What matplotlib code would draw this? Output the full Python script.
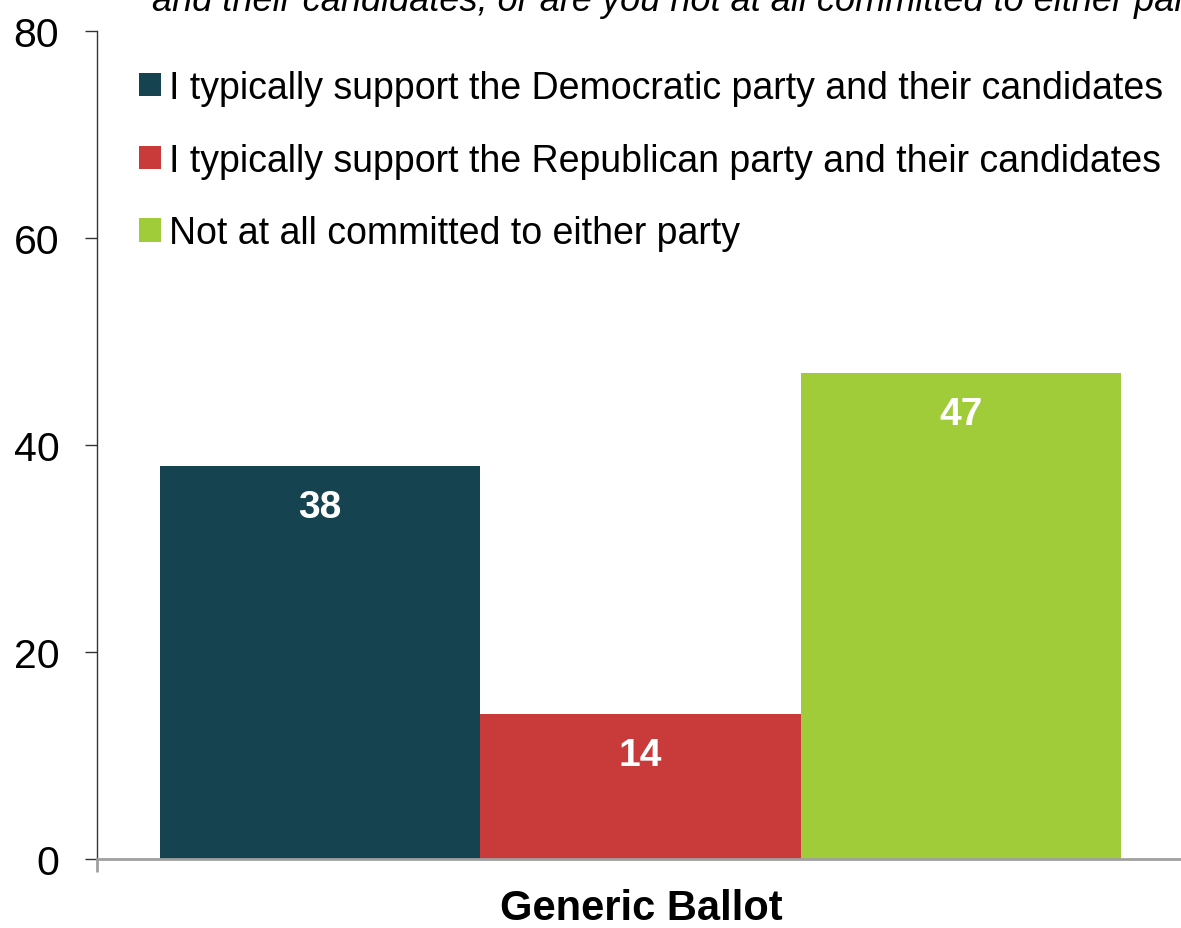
import matplotlib
matplotlib.use("Agg")
import matplotlib.pyplot as plt
from matplotlib.patches import Patch

plt.rcParams['font.family'] = ['Liberation Sans', 'DejaVu Sans']

category = "Generic Ballot"
series = ["I typically support the Democratic party and their candidates",
          "I typically support the Republican party and their candidates",
          "Not at all committed to either party"]
values = [38, 14, 47]
colors = ["#15434F", "#C93B3B", "#A0CC3A"]
yticks = [0, 20, 40, 60, 80]
title_tail = "and their candidates, or are you not at all committed to either party?"

W, H = 1181, 929
fig = plt.figure(figsize=(W / 100, H / 100), dpi=100)
ax = fig.add_axes([97 / W, (H - 860) / H, (1184 - 97) / W, (860 - 32) / H])

offsets = [-1, 0, 1]
for off, v, c, lab in zip(offsets, values, colors, series):
    ax.bar(off, v, width=1.0, color=c, label=lab, zorder=2)
    ax.text(off, v - 4.0, str(v), ha='center', va='center', color='white',
            fontsize=28, fontweight='bold', zorder=3)

ax.set_xlim(-1.697, 1.697)
ax.set_ylim(0, 80)
ax.set_yticks(yticks)
ax.set_yticklabels([str(t) for t in yticks], fontsize=29.5)
ax.tick_params(axis='y', direction='out', length=8.6, width=1, color='#333333', pad=18.5)
ax.set_xticks([-1.697])
ax.set_xticklabels([""])
ax.tick_params(axis='x', direction='out', length=9, width=2, color='#A0A0A0')

for s in ['top', 'right']:
    ax.spines[s].set_visible(False)
ax.spines['left'].set_color('#333333')
ax.spines['left'].set_linewidth(1)
ax.spines['bottom'].set_color('#A0A0A0')
ax.spines['bottom'].set_linewidth(2)
ax.spines['bottom'].set_zorder(4)

fig.text(641 / W, 1 - 909 / H, category, ha='center', va='center',
         fontsize=30, fontweight='bold')

fig.text(152 / W, 1 - 11 / H, title_tail, ha='left', va='baseline',
         fontsize=26, fontstyle='italic')

handles = [Patch(facecolor=c, edgecolor='none') for c in colors]
leg = ax.legend(handles, series, loc='upper left', bbox_to_anchor=(0.0386, 0.953),
                frameon=False, fontsize=27, handlelength=0.59, handleheight=0.59,
                handletextpad=0.22, labelspacing=0.98, borderaxespad=0, borderpad=0)

fig.savefig("out.png", dpi=100)
